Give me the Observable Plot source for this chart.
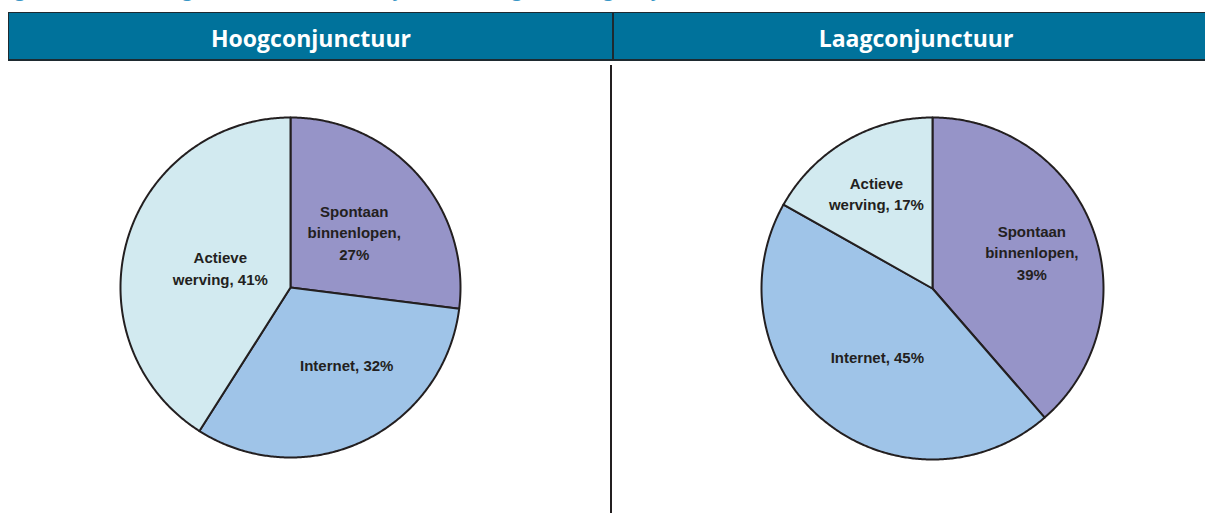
<!DOCTYPE html>
<html>
<head>
<meta charset="utf-8">
<script src="https://cdn.jsdelivr.net/npm/d3@7"></script>
<script src="https://cdn.jsdelivr.net/npm/@observablehq/plot@0.6"></script>
<style>
  html, body { margin: 0; padding: 0; background: #fff; }
  #wrap { position: relative; width: 1205px; height: 513px; overflow: hidden; }
  #title { position: absolute; left: -2px; top: -27px; font-family: "Open Sans", sans-serif; font-style: italic; font-size: 24px; color: #3a97c6; white-space: nowrap; line-height: 26px; }
  #header { position: absolute; left: 8px; top: 12px; width: 1210px; height: 46px; background: #00729b; border-top: 1.5px solid #1e2a30; border-bottom: 2px solid #1e2a30; border-left: 1px solid #1e2a30; }
  .hcell { position: absolute; top: 2px; height: 46px; line-height: 46px; text-align: center; color: #fff; font-family: "Open Sans", sans-serif; font-weight: 700; font-size: 23px; }
  #hsep { position: absolute; left: 603px; top: 0; width: 1.5px; height: 46px; background: #1e2a30; }
  #vsep { position: absolute; left: 610px; top: 65px; width: 2px; height: 448px; background: #231f20; }
  .panel { position: absolute; top: 62px; }
</style>
</head>
<body>
<div id="wrap">
  <div id="title">Figuur 4.3 Wervingskanalen van bedrijven in hoog- en laagconjunctuur</div>
  <div id="header">
    <div class="hcell" id="h1" style="left:0; width:604px;"></div>
    <div id="hsep"></div>
    <div class="hcell" id="h2" style="left:604px; width:606px;"></div>
  </div>
  <div id="vsep"></div>
  <div class="panel" id="p1" style="left:0;"></div>
  <div class="panel" id="p2" style="left:612px;"></div>
</div>
<script>
// ---- data ----
const panelTitles = ["Hoogconjunctuur", "Laagconjunctuur"];
const categories = ["Spontaan binnenlopen", "Internet", "Actieve werving"];
const hoogValues = [27, 32, 41];
const laagValues = [39, 45, 17];
const labelTemplates = ["Spontaan\nbinnenlopen,\n{v}%", "Internet, {v}%", "Actieve\nwerving, {v}%"];
const sliceColors = ["#9694c8", "#9fc4e8", "#d2eaf0"];

// ---- layout (not data) ----
const layouts = [
  {el: "#p1", width: 600, height: 451, ml: 120, mr: 140, mt: 55, mb: 56,
   labelR: [0.5, 0.56, 0.43], labelShift: [0, -11, 0]},
  {el: "#p2", width: 593, height: 451, ml: 149, mr: 102, mt: 55, mb: 54,
   labelR: [0.62, 0.51, 0.65], labelShift: [0, 0, 0]}
];

document.getElementById("h1").textContent = panelTitles[0];
document.getElementById("h2").textContent = panelTitles[1];

function buildSlices(values) {
  const total = d3.sum(values);
  const pts = [];
  const mids = [];
  let a0 = 0;
  values.forEach((v, i) => {
    const a1 = a0 + v / total * 2 * Math.PI;
    const cat = categories[i];
    pts.push({cat, x: 0, y: 0});
    const n = Math.max(2, Math.ceil((a1 - a0) / (Math.PI / 360)));
    for (let k = 0; k <= n; k++) {
      const a = a0 + (a1 - a0) * k / n;
      pts.push({cat, x: Math.sin(a), y: Math.cos(a)});
    }
    mids.push((a0 + a1) / 2);
    a0 = a1;
  });
  return {pts, mids};
}

function drawPanel(values, lay) {
  const {pts, mids} = buildSlices(values);
  const labels = values.map((v, i) => {
    const a = mids[i] + lay.labelShift[i] * Math.PI / 180;
    const r = lay.labelR[i];
    return {x: r * Math.sin(a), y: r * Math.cos(a), text: labelTemplates[i].replace("{v}", v)};
  });
  const plot = Plot.plot({
    width: lay.width,
    height: lay.height,
    marginLeft: lay.ml, marginRight: lay.mr, marginTop: lay.mt, marginBottom: lay.mb,
    x: {domain: [-1, 1], axis: null},
    y: {domain: [-1, 1], axis: null},
    color: {domain: categories, range: sliceColors},
    style: {fontFamily: "'Liberation Sans', Arial, sans-serif", background: "transparent", overflow: "visible"},
    marks: [
      Plot.line(pts, {x: "x", y: "y", z: "cat", fill: "cat", stroke: "#231f20", strokeWidth: 2,
        strokeLinejoin: "round", curve: "linear-closed"}),
      Plot.text(labels, {x: "x", y: "y", text: "text", fontSize: 15, fontWeight: "bold",
        lineHeight: 1.45, fill: "#231f20", textAnchor: "middle", lineAnchor: "middle"})
    ]
  });
  document.querySelector(lay.el).appendChild(plot);
}

drawPanel(hoogValues, layouts[0]);
drawPanel(laagValues, layouts[1]);
</script>
</body>
</html>
